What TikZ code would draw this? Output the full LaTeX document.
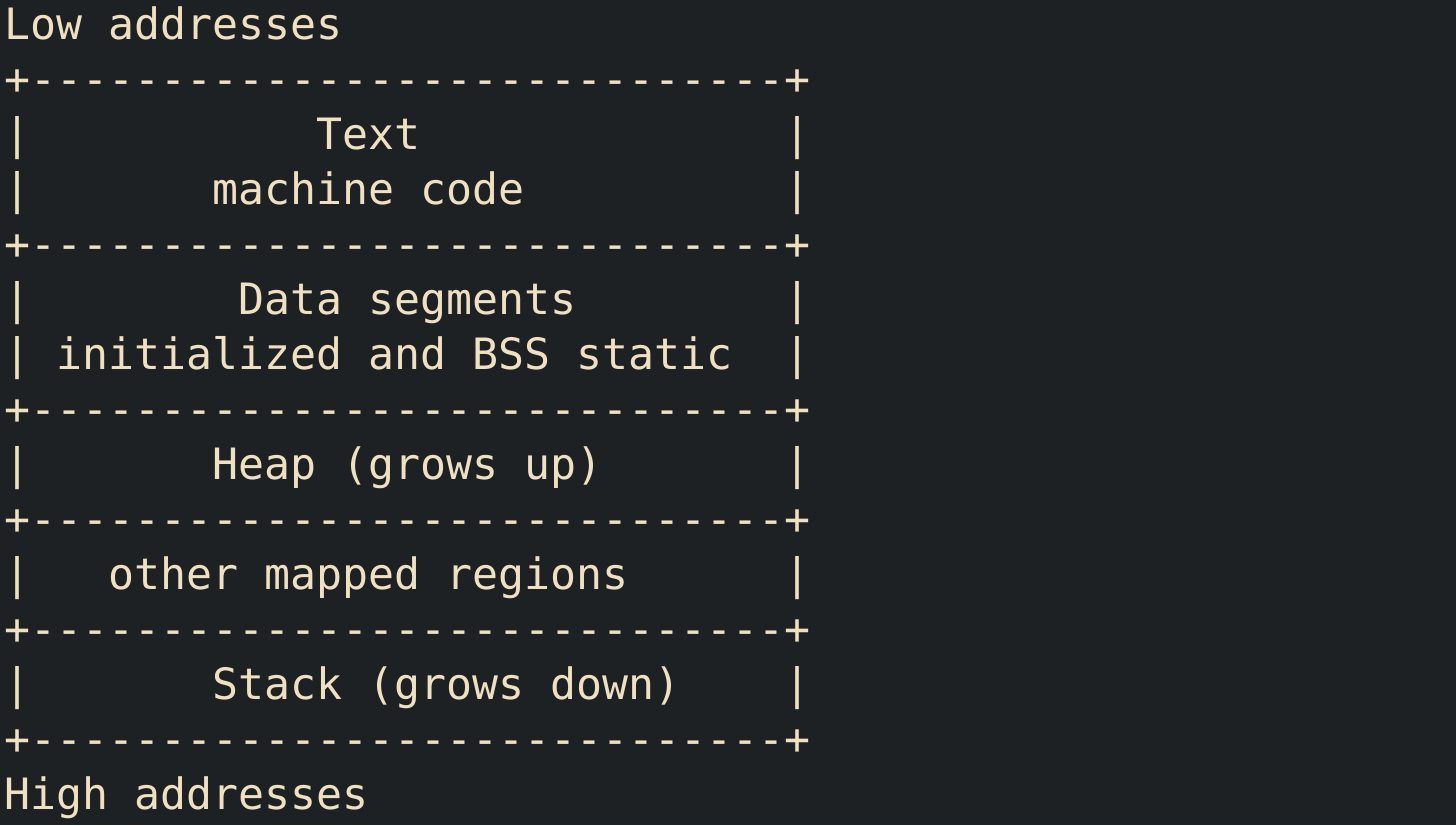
\documentclass[tikz,border=0pt]{standalone}
\usepackage{fontspec}
\setmonofont{DejaVu Sans Mono}
\usepackage{tikz}
\usetikzlibrary{positioning}

\definecolor{termbg}{HTML}{1E2124}
\definecolor{termfg}{HTML}{EFE0C2}

\newcommand{\sepline}{+-----------------------------+}

\tikzset{
  row/.style = {inner sep=0pt, outer sep=0pt, text=termfg,
                font=\ttfamily\fontsize{21.6pt}{27.5pt}\selectfont,
                text width=403pt,
                execute at begin node={\noindent\spaceskip=\fontcharwd\font`x\relax\xspaceskip=\spaceskip},
                text height=16pt, text depth=5pt}
}

\begin{document}
\begin{tikzpicture}[node distance = 27.5pt, on grid]
   \fill[termbg] (0,0) rectangle (728pt,-412.5pt);
   \useasboundingbox (0,0) rectangle (728pt,-412.5pt);
   \node[row, anchor=base west] (ln_0) at (2.25pt,-19.5pt) {Low~addresses};
   \node[row] (ln_1)  [below = of ln_0]  {\sepline};
   \node[row] (ln_2)  [below = of ln_1]  {|~~~~~~~~~~~Text~~~~~~~~~~~~~~|};
   \node[row] (ln_3)  [below = of ln_2]  {|~~~~~~~machine~code~~~~~~~~~~|};
   \node[row] (ln_4)  [below = of ln_3]  {\sepline};
   \node[row] (ln_5)  [below = of ln_4]  {|~~~~~~~~Data~segments~~~~~~~~|};
   \node[row] (ln_6)  [below = of ln_5]  {|~initialized~and~BSS~static~~|};
   \node[row] (ln_7)  [below = of ln_6]  {\sepline};
   \node[row] (ln_8)  [below = of ln_7]  {|~~~~~~~Heap~(grows~up)~~~~~~~|};
   \node[row] (ln_9)  [below = of ln_8]  {\sepline};
   \node[row] (ln_10) [below = of ln_9]  {|~~~other~mapped~regions~~~~~~|};
   \node[row] (ln_11) [below = of ln_10] {\sepline};
   \node[row] (ln_12) [below = of ln_11] {|~~~~~~~Stack~(grows~down)~~~~|};
   \node[row] (ln_13) [below = of ln_12] {\sepline};
   \node[row] (ln_14) [below = of ln_13] {High~addresses};
\end{tikzpicture}
\end{document}
